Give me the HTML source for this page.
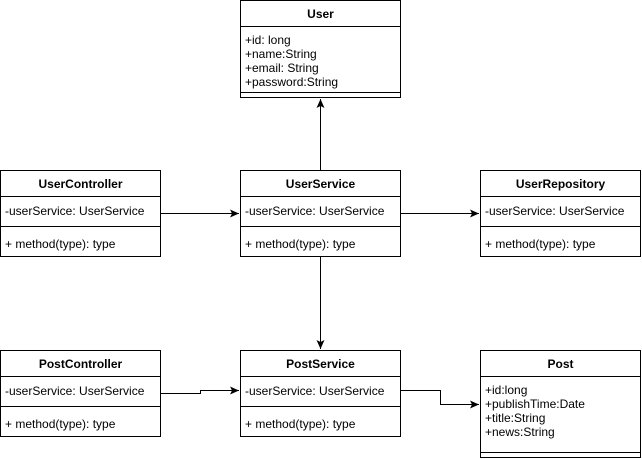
<!DOCTYPE html>
<html><head><style>
body{margin:0;background:#fff;}
svg{display:block;font-family:"Liberation Sans",Arial,sans-serif;font-size:12px;}
</style></head><body>
<svg width="642" height="459" viewBox="0 0 642 459">
<defs><marker id="a" markerWidth="10" markerHeight="10" refX="9" refY="4" orient="auto" markerUnits="userSpaceOnUse"><path d="M0,0 L9,4 L0,8 L2,4 z" fill="#000"/></marker></defs>
<g fill="#fff" stroke="#000" stroke-width="1">
<!-- User -->
<rect x="240.5" y="0.5" width="160" height="97"/>
<line x1="240.5" y1="26.5" x2="400.5" y2="26.5"/>
<line x1="240.5" y1="92.5" x2="400.5" y2="92.5"/>
<!-- UserController -->
<rect x="0.5" y="170.5" width="160" height="86"/>
<line x1="0.5" y1="196.5" x2="160.5" y2="196.5"/><line x1="0.5" y1="226.5" x2="160.5" y2="226.5"/>
<!-- UserService -->
<rect x="240.5" y="170.5" width="160" height="86"/>
<line x1="240.5" y1="196.5" x2="400.5" y2="196.5"/><line x1="240.5" y1="226.5" x2="400.5" y2="226.5"/>
<!-- UserRepository -->
<rect x="480.5" y="170.5" width="160" height="86"/>
<line x1="480.5" y1="196.5" x2="640.5" y2="196.5"/><line x1="480.5" y1="226.5" x2="640.5" y2="226.5"/>
<!-- PostController -->
<rect x="0.5" y="350.5" width="160" height="86"/>
<line x1="0.5" y1="376.5" x2="160.5" y2="376.5"/><line x1="0.5" y1="406.5" x2="160.5" y2="406.5"/>
<!-- PostService -->
<rect x="240.5" y="350.5" width="160" height="86"/>
<line x1="240.5" y1="376.5" x2="400.5" y2="376.5"/><line x1="240.5" y1="406.5" x2="400.5" y2="406.5"/>
<!-- Post -->
<rect x="480.5" y="350.5" width="160" height="107"/>
<line x1="480.5" y1="376.5" x2="640.5" y2="376.5"/><line x1="480.5" y1="452.5" x2="640.5" y2="452.5"/>
</g>
<g fill="none" stroke="#000" stroke-width="1">
<path d="M320.5 170 V99" marker-end="url(#a)"/>
<path d="M320.5 257 V349" marker-end="url(#a)"/>
<path d="M161 213.5 H239" marker-end="url(#a)"/>
<path d="M401 213.5 H479" marker-end="url(#a)"/>
<path d="M161 393.5 H200.5 V390.5 H239" marker-end="url(#a)"/>
<path d="M401 390.5 H440.5 V404.5 H479" marker-end="url(#a)"/>
</g>
<g fill="#000">
<text x="320.5" y="18" text-anchor="middle" font-weight="bold">User</text>
<text x="245" y="44">+id: long</text>
<text x="245" y="58">+name:String</text>
<text x="245" y="72">+email: String</text>
<text x="245" y="86">+password:String</text>
<text x="80.5" y="188" text-anchor="middle" font-weight="bold">UserController</text>
<text x="5" y="215">-userService: UserService</text>
<text x="5" y="248">+ method(type): type</text>
<text x="320.5" y="188" text-anchor="middle" font-weight="bold">UserService</text>
<text x="245" y="215">-userService: UserService</text>
<text x="245" y="248">+ method(type): type</text>
<text x="560.5" y="188" text-anchor="middle" font-weight="bold">UserRepository</text>
<text x="485" y="215">-userService: UserService</text>
<text x="485" y="248">+ method(type): type</text>
<text x="80.5" y="368" text-anchor="middle" font-weight="bold">PostController</text>
<text x="5" y="395">-userService: UserService</text>
<text x="5" y="428">+ method(type): type</text>
<text x="320.5" y="368" text-anchor="middle" font-weight="bold">PostService</text>
<text x="245" y="395">-userService: UserService</text>
<text x="245" y="428">+ method(type): type</text>
<text x="560.5" y="368" text-anchor="middle" font-weight="bold">Post</text>
<text x="485" y="394">+id:long</text>
<text x="485" y="408">+publishTime:Date</text>
<text x="485" y="422">+title:String</text>
<text x="485" y="436">+news:String</text>
</g>
</svg>
</body></html>
